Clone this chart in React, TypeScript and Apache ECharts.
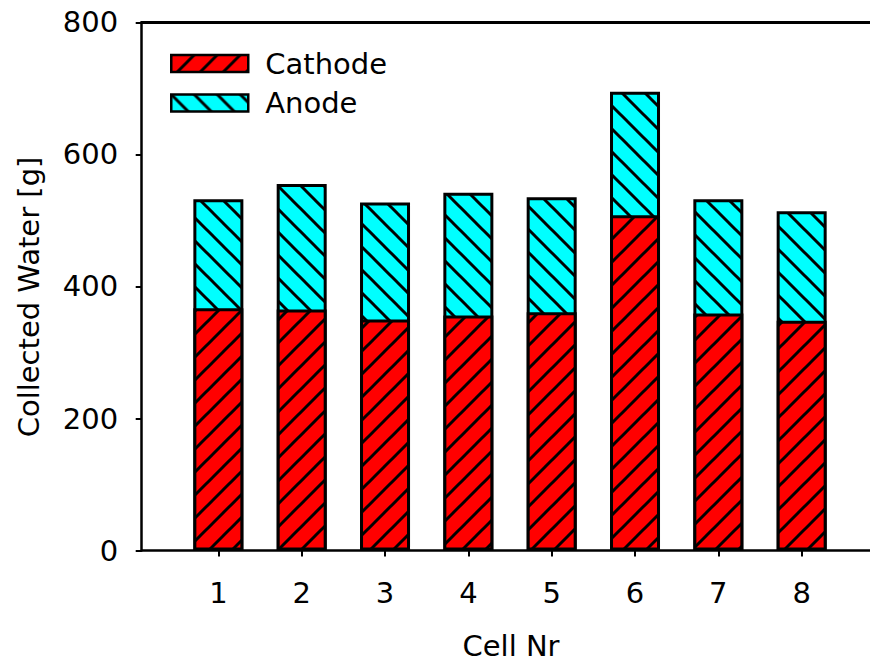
import React, { useEffect, useRef } from "react";
import * as echarts from "echarts";

// Cell numbers along the x axis
const cells = [1, 2, 3, 4, 5, 6, 7, 8];
// Collected water per cell and side [g]
const cathode = [367, 365, 350, 356, 361, 508, 359, 348];
const anode = [165, 190, 177, 186, 174, 187, 173, 166];
// Y axis tick values
const yTicks = [0, 200, 400, 600, 800];

const FONT = "DejaVu Sans";

// Builds a repeating hatch tile: "fwd" draws "/" strokes, "back" draws "\" strokes.
function hatch(bg: string, dir: "fwd" | "back") {
  const s = 23;
  const c = document.createElement("canvas");
  c.width = s;
  c.height = s;
  const ctx = c.getContext("2d")!;
  ctx.fillStyle = bg;
  ctx.fillRect(0, 0, s, s);
  ctx.strokeStyle = "#000";
  ctx.lineWidth = 3;
  for (const k of [-1, 0, 1]) {
    ctx.beginPath();
    if (dir === "fwd") {
      ctx.moveTo(k * s - s, 2 * s);
      ctx.lineTo(k * s + 2 * s, -s);
    } else {
      ctx.moveTo(k * s - s, -s);
      ctx.lineTo(k * s + 2 * s, 2 * s);
    }
    ctx.stroke();
  }
  return { image: c, repeat: "repeat", imageWidth: s, imageHeight: s } as any;
}

export default function App() {
  const ref = useRef<HTMLDivElement>(null);

  useEffect(() => {
    if (!ref.current) return;
    const chart = echarts.init(ref.current, null, { renderer: "svg" });
    const textBase = { fontFamily: FONT, fontSize: 29, color: "#000" };
    const axisLineStyle = { color: "#000", width: 2.5 };

    // The anode part sits on top of the cathode part: its bar spans the
    // cell's total and the cathode bar is painted over its lower section.
    const totals = cells.map((c, i) => [c, cathode[i] + anode[i]]);

    chart.setOption({
      animation: false,
      grid: { left: 141.7, right: 0, top: 22.3, bottom: 112.4 },
      legend: {
        data: ["Cathode", "Anode"],
        left: 170,
        top: 48.5,
        orient: "vertical",
        padding: 0,
        icon: "rect",
        itemWidth: 77,
        itemHeight: 17,
        itemGap: 9.5,
        itemStyle: { borderColor: "#000", borderWidth: 2.5 },
        textStyle: { ...textBase, lineHeight: 30, padding: [0, 0, 0, 12] },
      },
      xAxis: [
        {
          type: "value",
          min: 0.08,
          max: 8.82,
          position: "bottom",
          axisLine: { show: true, onZero: false, lineStyle: axisLineStyle },
          axisTick: { show: true, customValues: cells, length: 6, lineStyle: { color: "#000", width: 2 } },
          axisLabel: { customValues: cells, margin: 28, ...textBase },
          splitLine: { show: false },
        },
        {
          type: "value",
          min: 0.08,
          max: 8.82,
          position: "top",
          axisLine: { show: true, onZero: false, lineStyle: { color: "#000", width: 3 } },
          axisTick: { show: false },
          axisLabel: { show: false },
          splitLine: { show: false },
        },
      ],
      yAxis: {
        type: "value",
        min: yTicks[0],
        max: yTicks[yTicks.length - 1],
        interval: 200,
        axisLine: { show: true, onZero: false, lineStyle: axisLineStyle },
        axisTick: { show: true, length: 6, lineStyle: { color: "#000", width: 2 } },
        axisLabel: { margin: 23.5, ...textBase },
        splitLine: { show: false },
      },
      series: [
        {
          name: "Anode",
          type: "bar",
          xAxisIndex: 0,
          barWidth: 50,
          barGap: "-100%",
          data: totals,
          itemStyle: { color: hatch("#00ffff", "back"), borderColor: "#000", borderWidth: 3 },
        },
        {
          name: "Cathode",
          type: "bar",
          xAxisIndex: 0,
          barWidth: 50,
          barGap: "-100%",
          data: cells.map((c, i) => [c, cathode[i]]),
          itemStyle: { color: hatch("#ff0000", "fwd"), borderColor: "#000", borderWidth: 3 },
        },
      ],
      graphic: [
        {
          type: "text",
          x: 29,
          y: 297,
          rotation: Math.PI / 2,
          style: { text: "Collected Water [g]", font: `29px "${FONT}"`, fill: "#000", align: "center", verticalAlign: "middle" },
        },
        {
          type: "text",
          x: 511,
          y: 646,
          style: { text: "Cell Nr", font: `29px "${FONT}"`, fill: "#000", align: "center", verticalAlign: "middle" },
        },
      ],
    });
    return () => chart.dispose();
  }, []);

  return (
    <div
      ref={ref}
      style={{ position: "fixed", left: 0, top: 0, width: 870, height: 663, background: "#fff" }}
    />
  );
}
